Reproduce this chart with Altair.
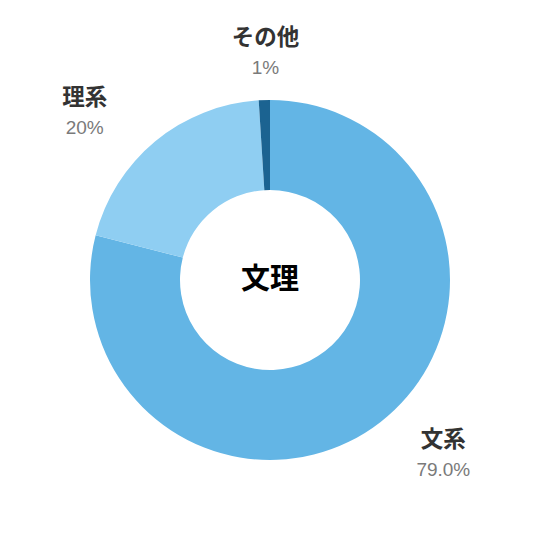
import altair as alt
import pandas as pd

categories = ["文系", "理系", "その他"]
values = [79.0, 20.0, 1.0]
pct_labels = ["79.0%", "20%", "1%"]
order_idx = [0, 1, 2]
colors = ["#63b5e5", "#8fcef2", "#1b6391"]
center_title = "文理"

df = pd.DataFrame({"cat": categories, "val": values, "pct": pct_labels, "idx": order_idx})

FONT = "Noto Sans CJK JP"
theta_scale = alt.Scale(domain=[0, 100])

arcs = alt.Chart(df).mark_arc(innerRadius=90, outerRadius=180).encode(
    theta=alt.Theta("val:Q", stack=True, scale=theta_scale),
    order=alt.Order("idx:Q"),
    color=alt.Color("cat:N", scale=alt.Scale(domain=categories, range=colors), legend=None),
)

stacked = alt.Chart(df).transform_stack(
    stack="val", groupby=[], as_=["s0", "s1"], sort=[alt.SortField("idx", order="ascending")]
).transform_calculate(mid="(datum.s0 + datum.s1) / 2")

offsets = {"文系": (25, -31), "理系": (-31, 4), "その他": (3, 0)}
layers = [arcs]
for c in categories:
    dx, dy = offsets[c]
    sub = stacked.transform_filter(alt.datum.cat == c).encode(
        theta=alt.Theta("mid:Q", stack=None, scale=theta_scale)
    )
    name = sub.mark_text(radius=242, dx=dx, dy=dy, font=FONT, fontSize=22.5, fontWeight="bold",
                         color="#333333", align="center", baseline="middle").encode(text="cat:N")
    pct = sub.mark_text(radius=242, dx=dx, dy=dy + 30, font="Liberation Sans", fontSize=19,
                        color="#7a7a7a", align="center", baseline="middle").encode(text="pct:N")
    layers += [name, pct]

center = alt.Chart(pd.DataFrame({"t": [center_title]})).mark_text(
    font=FONT, fontSize=29, fontWeight="bold", color="#000000", align="center", baseline="middle"
).encode(text="t:N")
layers.append(center)

chart = alt.layer(*layers).properties(
    width=524, height=524,
    padding={"left": 0, "top": 10, "right": 0, "bottom": 0},
    autosize=alt.AutoSizeParams(type="none"),
).configure_view(stroke=None)

chart.save("out.html", embed_options={"renderer": "svg", "actions": False})
